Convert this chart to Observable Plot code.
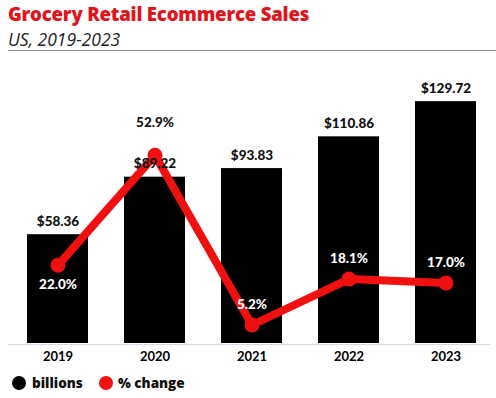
<!DOCTYPE html>
<html>
<head>
<meta charset="utf-8">
<script src="https://cdn.jsdelivr.net/npm/d3@7"></script>
<script src="https://cdn.jsdelivr.net/npm/@observablehq/plot@0.6"></script>
<style>
  html, body { margin: 0; padding: 0; background: #fff; }
  body { width: 496px; height: 398px; overflow: hidden; position: relative; font-family: "Open Sans", "DejaVu Sans", sans-serif; }
  #title { position: absolute; left: 8px; top: 1px; font-size: 18.6px; font-weight: 800; color: #e2131b; letter-spacing: -0.2px; white-space: nowrap; }
  #subtitle { position: absolute; left: 8px; top: 27px; font-size: 17.5px; font-style: italic; color: #222; white-space: nowrap; }
  #hr { position: absolute; left: 8px; right: 0; top: 50px; height: 0; border-top: 1.5px solid #8a8a8a; }
  #chart { position: absolute; left: 0; top: 54px; }
  #legend { position: absolute; left: 0; top: 374px; font-size: 13.5px; font-weight: 800; color: #111; }
  .item { position: absolute; top: 0; white-space: nowrap; display: flex; align-items: center; height: 18px; }
  .sw { width: 14px; height: 14px; border-radius: 50%; display: inline-block; margin-right: 6px; }
</style>
</head>
<body>
<div id="title">Grocery Retail Ecommerce Sales</div>
<div id="subtitle">US, 2019-2023</div>
<div id="hr"></div>
<div id="chart"></div>
<div id="legend">
  <div class="item" style="left:12px"><span class="sw" style="background:#000"></span>billions</div>
  <div class="item" style="left:99px"><span class="sw" style="background:#f0100f;margin-right:5px"></span>% change</div>
</div>
<script>
const years = ["2019", "2020", "2021", "2022", "2023"];
const billions = [58.36, 89.22, 93.83, 110.86, 129.72];
const pctChange = [22.0, 52.9, 5.2, 18.1, 17.0];

// % change is drawn against the same baseline, scaled to the bar axis
const pctToY = 1.908;

const data = years.map((y, i) => ({year: y, billions: billions[i], pct: pctChange[i]}));
const red = "#f0100f";
const font = "Lato, 'Open Sans', sans-serif";

const chart = Plot.plot({
  width: 496,
  height: 312,
  marginTop: 28,
  marginBottom: 23,
  marginLeft: 16,
  marginRight: 8,
  style: {fontFamily: font, fontSize: "13px", fontWeight: "bold", background: "transparent"},
  x: {domain: years, paddingInner: 0.366, paddingOuter: 0.1, label: null, tickSize: 0, tickPadding: 8},
  y: {domain: [0, 140], axis: null},
  marks: [
    Plot.ruleY([0], {stroke: "#d8d8e0", strokeWidth: 1.2, dy: 1, insetLeft: -8, insetRight: -2}),
    Plot.barY(data, {x: "year", y: "billions", fill: "#000"}),
    Plot.line(data, {x: "year", y: d => d.pct * pctToY, stroke: red, strokeWidth: 8, strokeLinejoin: "round"}),
    Plot.dot(data, {x: "year", y: d => d.pct * pctToY, fill: red, r: 7.5}),
    Plot.text(data, {x: "year", y: "billions", text: d => "$" + d.billions.toFixed(2), dy: -13, fill: "#111", fontSize: 13.5, fontWeight: 900}),
    Plot.text(data.filter(d => d.year === "2019"), {x: "year", y: d => d.pct * pctToY, text: d => d.pct.toFixed(1) + "%", dy: 19, fill: "#fff", fontSize: 13.5, fontWeight: 900}),
    Plot.text(data.filter(d => d.year === "2020"), {x: "year", y: d => d.pct * pctToY, text: d => d.pct.toFixed(1) + "%", dy: -33, fill: "#111", fontSize: 13.5, fontWeight: 900}),
    Plot.text(data.filter(d => d.year > "2020"), {x: "year", y: d => d.pct * pctToY, text: d => d.pct.toFixed(1) + "%", dy: -20, fill: "#fff", fontSize: 13.5, fontWeight: 900})
  ]
});
document.getElementById("chart").appendChild(chart);
</script>
</body>
</html>
